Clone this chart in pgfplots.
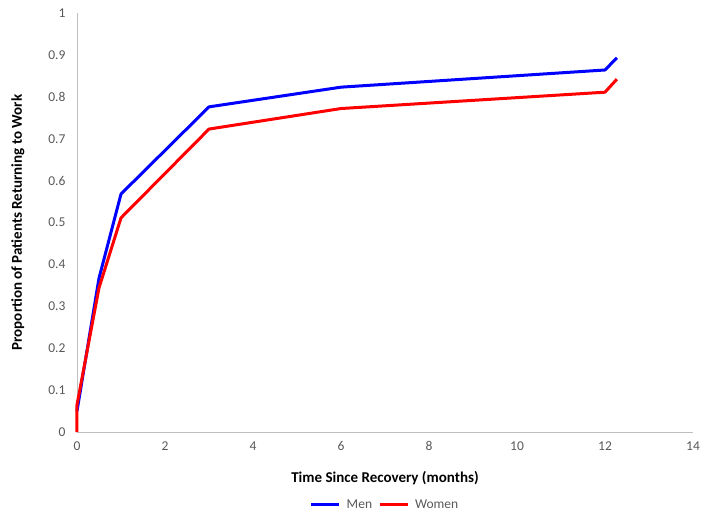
\documentclass[border=0pt]{standalone}
\usepackage{pgfplots}
\pgfplotsset{compat=1.18}
\usepackage{fontspec}
\setmainfont{Carlito}
\definecolor{axgray}{HTML}{BFBFBF}
\definecolor{txtgray}{HTML}{595959}
\begin{document}
\begin{tikzpicture}
\begin{axis}[
  scale only axis, width=616pt, height=419pt,
  xmin=0, xmax=14, ymin=0, ymax=1,
  xtick={0,2,...,14}, ytick={0,0.1,...,1},
  axis x line*=bottom, axis y line*=left,
  axis line style={axgray, line width=0.8pt, -},
  major tick length=0pt,
  tick label style={font=\fontsize{13.5}{15}\selectfont, text=txtgray},
  /pgf/number format/assume math mode=true,
  yticklabel style={xshift=-8pt},
  xticklabel style={yshift=-6pt},
  xlabel={\textbf{Time Since Recovery (months)}},
  ylabel={\textbf{Proportion of Patients Returning to Work}},
  label style={font=\fontsize{15}{17}\selectfont},
  xlabel style={at={(axis description cs:0.5,-0.110)}, anchor=center},
  ylabel style={at={(axis description cs:-0.0958,0.5)}, anchor=center, rotate=0},
  legend style={at={(axis description cs:0.5,-0.174)}, anchor=center, draw=none,
    font=\fontsize{13.5}{15}\selectfont, text=txtgray, column sep=4pt},
  legend columns=2,
  legend image code/.code={\draw[#1, line width=3pt] (0pt,0pt) -- (28pt,0pt);},
  clip=false,
]
\addplot[blue, line width=3pt, line join=round] coordinates {
  (0,0.05) (0.5,0.367) (1,0.568) (3,0.776) (6,0.823) (12,0.864) (12.27,0.893)
};
\addlegendentry{Men}
\addplot[red, line width=3pt, line join=round] coordinates {
  (0,0) (0,0.065) (0.5,0.344) (1,0.511) (3,0.723) (6,0.772) (12,0.811) (12.27,0.842)
};
\addlegendentry{Women}
\coordinate (o) at (rel axis cs:0,0);
\end{axis}
\pgfresetboundingbox
\path[use as bounding box] (o) ++(-77pt,-88pt) rectangle ++(712pt,520pt);
\end{tikzpicture}
\end{document}
